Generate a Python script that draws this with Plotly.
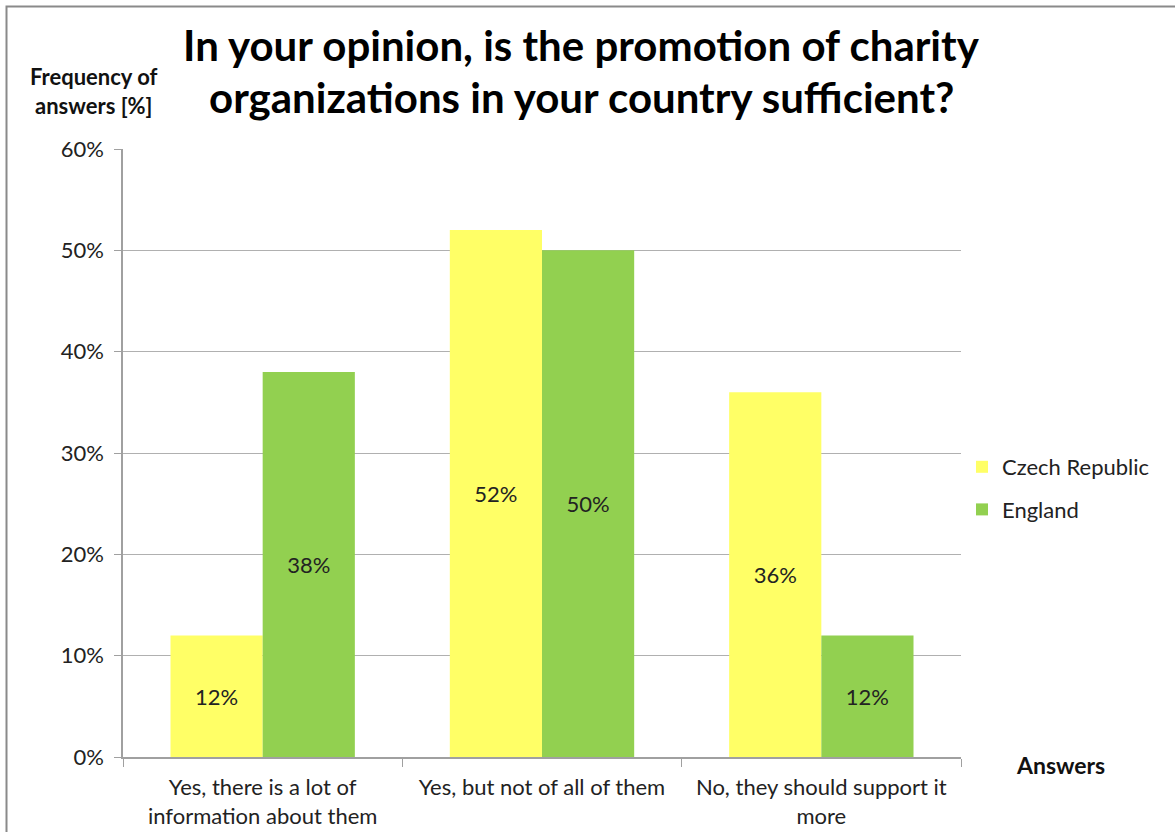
import plotly.graph_objects as go

categories = ["Yes, there is a lot of<br>information about them",
              "Yes, but not of all of them",
              "No, they should support it<br>more"]
czech = [12, 52, 36]
england = [38, 50, 12]
y_ticks = [0, 10, 20, 30, 40, 50, 60]
y_tick_labels = [f"{v}%" for v in y_ticks]
title_lines = ["In your opinion, is the promotion of charity",
               "organizations in your country sufficient?"]

FONT = "Lato, 'Open Sans', sans-serif"
W, H = 1175, 832
L, R, T, B = 123, 214, 149, 75
pw, ph = W - L - R, H - T - B

def px_x(x):
    return (x - L) / pw

def px_y(y):
    return (H - B - y) / ph

fig = go.Figure()
fig.add_trace(go.Bar(
    name="Czech Republic", x=categories, y=czech, legendgroup="cz",
    marker=dict(color="#FFFF66", line=dict(width=0)),
    text=[f"{v}%" for v in czech], textposition="inside",
    insidetextanchor="middle", textfont=dict(size=22, color="#222222", family=FONT),
))
fig.add_trace(go.Bar(
    name="England", x=categories, y=england, legendgroup="en",
    marker=dict(color="#92D050", line=dict(width=0)),
    text=[f"{v}%" for v in england], textposition="inside",
    insidetextanchor="middle", textfont=dict(size=22, color="#222222", family=FONT),
))

fig.update_layout(
    width=W, height=H,
    margin=dict(l=L, r=R, t=T, b=B, autoexpand=False),
    paper_bgcolor="white", plot_bgcolor="white",
    barmode="group", bargap=0.34, bargroupgap=0,
    font=dict(family=FONT, size=22, color="#222222"),
    showlegend=True,
    legend=dict(x=px_x(962), y=px_y(446), xanchor="left", yanchor="top",
                font=dict(size=22, color="#222222", family=FONT),
                itemwidth=30, tracegroupgap=11, bgcolor="rgba(0,0,0,0)"),
    xaxis=dict(
        type="category", tickson="boundaries", ticks="outside", ticklen=8,
        tickcolor="#a0a0a0", showline=True, linecolor="#a0a0a0", linewidth=1.5,
        showgrid=False, ticklabelstandoff=10, automargin=False,
        tickfont=dict(size=22, color="#222222", family=FONT),
    ),
    yaxis=dict(
        range=[0, 60], tickvals=y_ticks, ticktext=y_tick_labels,
        ticks="outside", ticklen=7, tickcolor="#a0a0a0",
        showline=True, linecolor="#a0a0a0", linewidth=1.5,
        showgrid=True, gridcolor="#b0b0b0", gridwidth=1.2, zeroline=False,
        ticklabelstandoff=6, automargin=False,
        tickfont=dict(size=22, color="#222222", family=FONT),
    ),
)

for line, yc in zip(title_lines, [45, 97]):
    fig.add_annotation(
        text=f"<b>{line}</b>",
        xref="paper", yref="paper", x=px_x(581), y=px_y(yc), xanchor="center", yanchor="middle",
        showarrow=False, align="center", font=dict(size=42, color="#000000", family=FONT),
    )
fig.add_annotation(
    text="<b>Frequency of<br>answers [%]</b>",
    xref="paper", yref="paper", x=px_x(94), y=px_y(91), xanchor="center", yanchor="middle",
    showarrow=False, align="center", font=dict(size=22, color="#111111", family=FONT),
)
fig.add_annotation(
    text="<b>Answers</b>",
    xref="paper", yref="paper", x=px_x(1060), y=px_y(765), xanchor="center", yanchor="middle",
    showarrow=False, font=dict(size=23, color="#111111", family=FONT),
)

# outer frame of the chart
fig.add_shape(type="rect", xref="paper", yref="paper",
              x0=px_x(6.5), x1=px_x(1180), y0=px_y(840), y1=px_y(6.5),
              line=dict(color="#8a8a8a", width=2), fillcolor="rgba(0,0,0,0)", layer="below")

fig.write_html("out.html")
